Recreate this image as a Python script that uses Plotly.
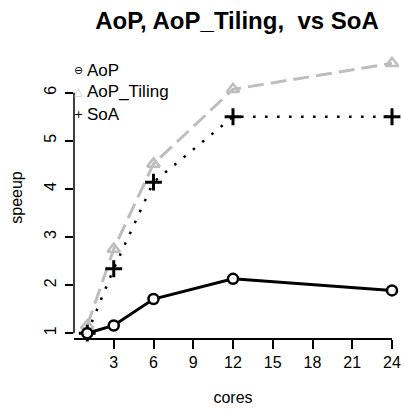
import plotly.graph_objects as go

cores = [1, 3, 6, 12, 24]
aop = [1.0, 1.16, 1.71, 2.13, 1.89]
aop_tiling = [1.16, 2.75, 4.52, 6.07, 6.61]
soa = [1.0, 2.34, 4.14, 5.50, 5.50]

x_ticks = [3, 6, 9, 12, 15, 18, 21, 24]
y_ticks = [1, 2, 3, 4, 5, 6]
legend_names = ["AoP", "AoP_Tiling", "SoA"]

FONT = "Liberation Sans, Arial, Helvetica, sans-serif"
GRAY = "#BEBEBE"

fig = go.Figure()
fig.add_trace(go.Scatter(
    x=cores, y=aop_tiling, mode="lines+markers", cliponaxis=False,
    line=dict(color=GRAY, width=3, dash="16px,7px"),
    marker=dict(symbol="triangle-up-open", size=11, color=GRAY, line=dict(width=2.5, color=GRAY)),
    showlegend=False))
fig.add_trace(go.Scatter(
    x=cores, y=soa, mode="lines+markers", cliponaxis=False,
    line=dict(color="black", width=2.5, dash="2.5px,9.5px"),
    marker=dict(symbol="cross-thin", size=12, color="black", line=dict(width=3, color="black")),
    showlegend=False))
fig.add_trace(go.Scatter(
    x=cores, y=aop, mode="lines+markers", cliponaxis=False,
    line=dict(color="black", width=3),
    marker=dict(symbol="circle", size=10, color="white", line=dict(width=2.5, color="black")),
    showlegend=False))

# y axis line only spanning the tick range
fig.add_shape(type="line", xref="paper", x0=0, x1=0, yref="y", y0=y_ticks[0], y1=y_ticks[-1],
              line=dict(color="black", width=1.5))

# legend as text
sym = ["⊖", "△", "+"]
sym_col = ["black", GRAY, "black"]
ys = [0.952, 0.876, 0.797]
for name, s, c, yy in zip(legend_names, sym, sym_col, ys):
    fig.add_annotation(xref="paper", yref="paper", x=0.014, y=yy, text=s, showarrow=False,
                       xanchor="center", yanchor="middle", font=dict(family="DejaVu Sans", size=11, color=c))
    fig.add_annotation(xref="paper", yref="paper", x=0.036, y=yy, text=name, showarrow=False,
                       xanchor="left", yanchor="middle", font=dict(family=FONT, size=17, color="black"))

fig.update_layout(
    width=404, height=409,
    margin=dict(l=74, r=12, t=57, b=71, autoexpand=False),
    paper_bgcolor="white", plot_bgcolor="white",
    font=dict(family=FONT, size=16, color="black"),
    title=dict(text="<b>AoP, AoP_Tiling,  vs SoA</b>", x=237 / 404, xanchor="center",
               y=1 - 21 / 409, yanchor="middle", yref="container",
               font=dict(family=FONT, size=24, color="black")),
    showlegend=False,
)
fig.update_xaxes(range=[0, 24], tickvals=x_ticks, ticktext=[str(v) for v in x_ticks],
                 showgrid=False, zeroline=False, showline=True, linecolor="black", linewidth=1.5,
                 ticks="outside", ticklen=9, tickwidth=1.5, tickcolor="black", automargin=False,
                 title=dict(text="cores", standoff=22, font=dict(size=16)))
fig.update_yaxes(range=[0.9, 6.742], tickvals=y_ticks, ticktext=[str(v) for v in y_ticks],
                 showgrid=False, zeroline=False, showline=False, automargin=False,
                 ticks="outside", ticklen=8, tickwidth=1.5, tickcolor="black", tickangle=-90,
                 ticklabelstandoff=3,
                 title=dict(text="speeup", standoff=14, font=dict(size=16)))

fig.write_html("out.html", config={"displayModeBar": False},
               post_script="document.body.style.margin='0';document.body.style.padding='0';"
                           "document.documentElement.style.overflow='hidden';")
